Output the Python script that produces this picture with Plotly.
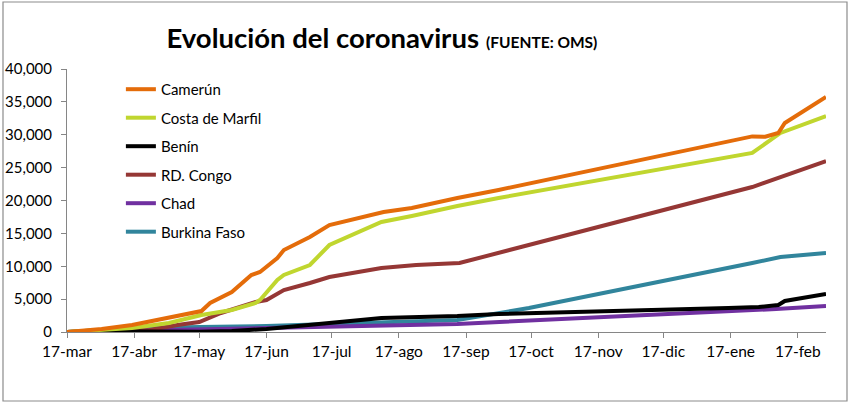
import plotly.graph_objects as go

# Casos acumulados por país (FUENTE: OMS)
camerun_fechas = ["2020-03-17", "2020-04-02", "2020-04-16", "2020-05-03", "2020-05-18",
                  "2020-05-22", "2020-06-01", "2020-06-10", "2020-06-14", "2020-06-22",
                  "2020-06-25", "2020-07-07", "2020-07-16", "2020-08-10", "2020-08-23",
                  "2020-09-13", "2020-10-02", "2021-01-27", "2021-02-02", "2021-02-08",
                  "2021-02-11", "2021-03-02"]
camerun = [0, 450, 1070, 2130, 3190, 4410, 6080, 8670, 9130, 11250, 12470, 14450, 16270,
           18250, 18860, 20380, 21600, 29750, 29700, 30270, 31790, 35740]

costa_fechas = ["2020-03-17", "2020-04-02", "2020-04-16", "2020-05-03", "2020-05-18",
                "2020-06-01", "2020-06-12", "2020-06-14", "2020-06-22", "2020-06-25",
                "2020-07-07", "2020-07-16", "2020-08-09", "2020-08-23", "2020-09-13",
                "2020-10-02", "2021-01-27", "2021-02-09", "2021-03-02"]
costa = [0, 300, 610, 1370, 2590, 3350, 4410, 4870, 7910, 8670, 10190, 13230, 16730,
         17640, 19160, 20380, 27230, 30270, 32850]

benin_fechas = ["2020-03-17", "2020-04-02", "2020-05-17", "2020-06-01", "2020-06-17",
                "2020-07-02", "2020-07-18", "2020-08-09", "2020-09-13", "2020-10-02",
                "2021-01-16", "2021-01-30", "2021-02-08", "2021-02-11", "2021-03-02"]
benin = [0, 100, 50, 150, 460, 900, 1370, 2130, 2430, 2740, 3650, 3800, 4110, 4720, 5780]

congo_fechas = ["2020-03-17", "2020-04-02", "2020-04-24", "2020-05-07", "2020-05-17",
                "2020-05-27", "2020-06-03", "2020-06-12", "2020-06-17", "2020-06-25",
                "2020-07-07", "2020-07-16", "2020-08-09", "2020-08-25", "2020-09-14",
                "2021-01-27", "2021-03-02"]
congo = [0, 100, 300, 1060, 1520, 2890, 3650, 4560, 4870, 6390, 7450, 8370, 9730, 10190,
         10490, 22050, 26000]

chad_fechas = ["2020-03-17", "2020-04-14", "2020-05-14", "2020-06-17", "2020-09-13",
               "2020-11-22", "2021-02-07", "2021-03-02"]
chad = [0, 150, 300, 600, 1220, 2280, 3500, 3950]

burkina_fechas = ["2020-03-17", "2020-04-01", "2020-04-16", "2020-05-17", "2020-06-17",
                  "2020-09-13", "2020-10-16", "2021-01-27", "2021-02-09", "2021-03-02"]
burkina = [0, 250, 560, 760, 910, 1820, 3650, 10490, 11410, 12020]

meses_vals = ["2020-03-17", "2020-04-17", "2020-05-17", "2020-06-17", "2020-07-17",
              "2020-08-17", "2020-09-17", "2020-10-17", "2020-11-17", "2020-12-17",
              "2021-01-17", "2021-02-17"]
meses_text = ["17-mar", "17-abr", "17-may", "17-jun", "17-jul", "17-ago", "17-sep",
              "17-oct", "17-nov", "17-dic", "17-ene", "17-feb"]

series = [
    ("Camerún", camerun_fechas, camerun, "#E46C0A"),
    ("Costa de Marfil", costa_fechas, costa, "#C0D62F"),
    ("Benín", benin_fechas, benin, "#000000"),
    ("RD. Congo", congo_fechas, congo, "#953735"),
    ("Chad", chad_fechas, chad, "#7030A0"),
    ("Burkina Faso", burkina_fechas, burkina, "#31859C"),
]
nombres = [s[0] for s in series]

fig = go.Figure()
# dibujar en orden inverso para que Camerún quede arriba
for nombre, fechas, valores, color in reversed(series):
    fig.add_trace(go.Scatter(x=fechas, y=valores, name=nombre, mode="lines",
                             legendgroup=nombre, legendrank=nombres.index(nombre),
                             line=dict(color=color, width=4)))

fig.update_layout(
    width=852, height=405,
    margin=dict(l=67, r=26, t=69, b=73),
    paper_bgcolor="white", plot_bgcolor="white",
    font=dict(family="Lato, Calibri, sans-serif", size=16, color="#000000"),
    title=dict(text="<b>Evolución del coronavirus</b> <b><span style='font-size:15.5px'>(FUENTE: OMS)</span></b>",
               font=dict(size=27.5), x=0.131, xanchor="left", xref="paper",
               y=0.905, yanchor="middle", yref="container"),
    showlegend=True,
    legend=dict(x=0.071, y=0.985, xanchor="left", yanchor="top",
                bgcolor="rgba(0,0,0,0)", tracegroupgap=6,
                font=dict(size=15)),
    shapes=[dict(type="rect", xref="paper", yref="paper",
                 x0=-64 / 759, x1=1 + 21 / 759, y0=-69 / 263, y1=1 + 67 / 263,
                 line=dict(color="#8C8C8C", width=1.2))],
)

fig.update_xaxes(type="date", range=["2020-03-17", "2021-03-02"],
                 tickvals=meses_vals, ticktext=meses_text, automargin=False,
                 showline=True, linecolor="#868686", linewidth=1,
                 ticks="outside", ticklen=5, tickcolor="#868686",
                 showgrid=False, zeroline=False, tickfont=dict(size=15.5))
fig.update_yaxes(range=[0, 40000], dtick=5000, tickformat=",", automargin=False,
                 showline=True, linecolor="#868686", linewidth=1,
                 ticks="outside", ticklen=5, tickcolor="#868686", ticklabelstandoff=6,
                 showgrid=False, zeroline=False, tickfont=dict(size=15))

fig.write_html("out.html", config={"displayModeBar": False},
               post_script="document.body.style.margin='0';")
